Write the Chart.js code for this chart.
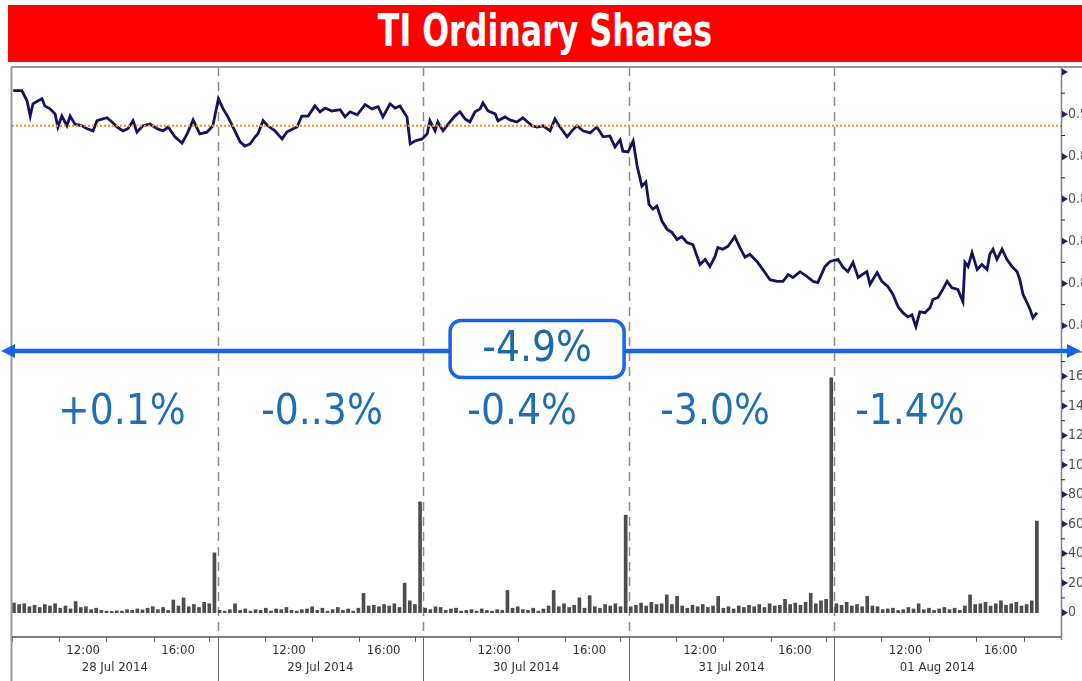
<!DOCTYPE html>
<html>
<head>
<meta charset="utf-8">
<title>TI Ordinary Shares</title>
<script src="https://cdn.jsdelivr.net/npm/chart.js@4.4.1/dist/chart.umd.min.js"></script>
<style>
  body { margin: 0; background: #fff; width: 1082px; height: 681px; overflow: hidden; position: relative; }
  #titre {
    position: absolute; left: 8px; top: 5px; width: 1074px; height: 57px;
    background: #ff0000; color: #fff; text-align: center; line-height: 62px;
    font: bold 44px 'Liberation Sans Narrow', 'DejaVu Sans Condensed', sans-serif;
    z-index: 2;
  }
  #titre span { display: inline-block; transform: scaleX(0.8); }
  #grafico { position: absolute; left: 0; top: 0; }
</style>
</head>
<body>
<div id="titre"><span>TI Ordinary Shares</span></div>
<canvas id="grafico" width="1082" height="681"></canvas>
<script>
// jours de bourse (axe x = minutes de seance depuis 9:00, 520 min par jour)
var dayLabels = ['28 Jul 2014', '29 Jul 2014', '30 Jul 2014', '31 Jul 2014', '01 Aug 2014'];
var hourTicks = [60, 180, 300, 420];        // 10:00, 12:00, 14:00, 16:00
var hourLabels = ['', '12:00', '', '16:00'];
var sessionLength = 520;

// variation par jour + total
var dayPct = ['+0.1%', '-0..3%', '-0.4%', '-3.0%', '-1.4%'];
var dayPctTime = [278, 784, 1290, 1778, 2271];
var totalPct = '-4.9%';
var totalPctTime = 1328;

var prevClose = 0.8973;

// cours
var priceTime = [
  3, 25, 38, 46, 53, 66, 76, 83, 96, 109, 116, 126, 139, 147, 159, 177, 190, 205, 215, 240,
  253, 266, 281, 293, 306, 316, 331, 349, 367, 382, 395, 412, 430, 443, 458, 475, 493, 508,
  522, 534, 546, 559, 577, 589, 602, 615, 622, 635, 647, 665, 683, 695, 711, 721, 733, 749,
  766, 779, 792, 809, 830, 842, 855, 873, 893, 910, 926, 938, 956, 969, 981, 999, 1007, 1019, 1037,
  1050, 1057, 1070, 1077, 1090, 1103, 1120, 1133, 1146, 1158, 1171, 1184, 1191, 1204, 1222, 1229,
  1247, 1259, 1277, 1292, 1315, 1328, 1343, 1361, 1373, 1386, 1404, 1416, 1429, 1444, 1462, 1479,
  1495, 1512, 1525, 1538, 1545, 1558,
  1571, 1581, 1593, 1603, 1611, 1621, 1631, 1644, 1657, 1669, 1682, 1694, 1707, 1722, 1740, 1753,
  1765, 1778, 1785, 1798, 1811, 1828, 1841, 1854, 1866, 1884, 1899, 1917, 1935, 1950, 1963, 1975,
  1993, 2011, 2026, 2038, 2056, 2069,
  2089, 2102, 2114, 2127, 2140, 2150, 2162, 2170, 2188, 2200, 2215, 2228, 2241, 2253, 2266, 2276,
  2286, 2296, 2309, 2322, 2329, 2342, 2354, 2365, 2377, 2392, 2405, 2410, 2418, 2428, 2441, 2453,
  2466, 2473, 2481, 2491, 2504, 2516, 2529, 2542, 2549, 2557, 2567, 2575, 2582, 2592
];
var priceValue = [
  0.9056, 0.9056, 0.9032, 0.8996, 0.9025, 0.9032, 0.9037, 0.9020, 0.9013, 0.9001, 0.8970, 0.8996,
  0.8973, 0.8996, 0.8977, 0.8973, 0.8966, 0.8961, 0.8985, 0.8992, 0.8982, 0.8970, 0.8961, 0.8966,
  0.8985, 0.8958, 0.8973, 0.8977, 0.8966, 0.8961, 0.8970, 0.8947, 0.8932, 0.8954, 0.8987, 0.8954,
  0.8958, 0.8973,
  0.9037, 0.9013, 0.8994, 0.8970, 0.8935, 0.8925, 0.8930, 0.8947, 0.8954, 0.8985, 0.8973, 0.8961,
  0.8942, 0.8958, 0.8966, 0.8970, 0.8996, 0.8996, 0.9020, 0.9006, 0.9015, 0.9008, 0.9011, 0.8994,
  0.9006, 0.8999, 0.9023, 0.9013, 0.9018, 0.8994, 0.9025, 0.9015, 0.9020, 0.8994, 0.8930, 0.8937, 0.8942,
  0.8954, 0.8985, 0.8961, 0.8982, 0.8961, 0.8977, 0.8996, 0.9006, 0.8989, 0.8982, 0.9006, 0.9013,
  0.9027, 0.9008, 0.9001, 0.8985, 0.8994, 0.8987, 0.8982, 0.8992, 0.8973, 0.8970, 0.8973, 0.8961,
  0.8989, 0.8970, 0.8947, 0.8961, 0.8973, 0.8961, 0.8956, 0.8970, 0.8947, 0.8949, 0.8923, 0.8940,
  0.8913, 0.8911,
  0.8937, 0.8878, 0.8830, 0.8840, 0.8787, 0.8776, 0.8783, 0.8747, 0.8728, 0.8721, 0.8704, 0.8711,
  0.8697, 0.8692, 0.8645, 0.8657, 0.8640, 0.8664, 0.8685, 0.8681, 0.8688, 0.8711, 0.8685, 0.8662,
  0.8669, 0.8652, 0.8633, 0.8609, 0.8605, 0.8605, 0.8621, 0.8614, 0.8628, 0.8616, 0.8605, 0.8602,
  0.8640, 0.8652,
  0.8657, 0.8638, 0.8628, 0.8650, 0.8614, 0.8621, 0.8628, 0.8598, 0.8626, 0.8605, 0.8593, 0.8574,
  0.8545, 0.8531, 0.8521, 0.8526, 0.8498, 0.8533, 0.8531, 0.8543, 0.8562, 0.8567, 0.8586, 0.8605,
  0.8590, 0.8586, 0.8557, 0.8650, 0.8640, 0.8673, 0.8633, 0.8645, 0.8633, 0.8669, 0.8681, 0.8657,
  0.8681, 0.8657, 0.8640, 0.8628, 0.8609, 0.8574, 0.8555, 0.8538, 0.8519, 0.8531
];

// volumes, 40 tranches de 13 min par jour (la derniere = cloture)
var volSlot = 13;
var vol28Jul = [65, 55, 60, 40, 50, 35, 55, 45, 60, 30, 45, 25, 75, 35, 40, 20, 30, 15, 10, 8,
  12, 10, 20, 15, 25, 18, 30, 40, 20, 35, 15, 85, 45, 100, 40, 55, 35, 70, 60, 405];
var vol29Jul = [15, 10, 20, 60, 15, 25, 10, 20, 15, 30, 10, 25, 20, 35, 15, 10, 20, 25, 40, 15,
  30, 10, 20, 35, 15, 25, 10, 30, 130, 45, 50, 40, 55, 45, 60, 35, 200, 80, 55, 750];
var vol30Jul = [30, 20, 40, 35, 15, 25, 30, 10, 15, 20, 10, 25, 15, 10, 20, 15, 150, 30, 40, 20,
  15, 30, 10, 25, 45, 150, 40, 60, 35, 50, 100, 30, 115, 40, 30, 55, 45, 60, 40, 660];
var vol31Jul = [40, 50, 65, 45, 70, 55, 60, 120, 55, 110, 45, 30, 50, 40, 55, 35, 45, 110, 30, 40,
  25, 45, 35, 50, 40, 55, 35, 60, 45, 50, 90, 55, 65, 50, 70, 130, 60, 80, 90, 1590];
var vol01Aug = [60, 50, 70, 45, 55, 40, 110, 45, 40, 20, 25, 30, 15, 20, 35, 25, 60, 20, 30, 15,
  25, 35, 20, 30, 15, 45, 120, 55, 60, 70, 45, 60, 80, 50, 60, 70, 45, 55, 80, 620];

var priceData = priceTime.map(function (t, i) { return { x: t, y: priceValue[i] }; });

var volData = [];
[vol28Jul, vol29Jul, vol30Jul, vol31Jul, vol01Aug].forEach(function (day, d) {
  day.forEach(function (v, i) {
    volData.push({ x: d * sessionLength + 5 + i * volSlot, y: v });
  });
});

var xMax = 2653;
var police = "'Liberation Sans Narrow', 'DejaVu Sans Condensed', sans-serif";

// separateurs, bordures, reperes d'axes, annotations
var decor = {
  id: 'decor',
  beforeDatasetsDraw: function (chart) {
    var ctx = chart.ctx, a = chart.chartArea, x = chart.scales.x;
    ctx.save();
    ctx.strokeStyle = '#8a8a8a';
    ctx.lineWidth = 1.5;
    ctx.setLineDash([9, 6]);
    for (var d = 1; d < dayLabels.length; d++) {
      var px = Math.round(x.getPixelForValue(d * sessionLength)) + 0.5;
      ctx.beginPath(); ctx.moveTo(px, a.top); ctx.lineTo(px, a.bottom); ctx.stroke();
    }
    ctx.restore();
  },
  afterDraw: function (chart) {
    var ctx = chart.ctx, a = chart.chartArea, x = chart.scales.x;
    var yP = chart.scales.yPrice, yV = chart.scales.yVol;
    var W = chart.width, H = chart.height;
    ctx.save();

    // cadre
    ctx.strokeStyle = '#9a9a9a';
    ctx.lineWidth = 2;
    ctx.beginPath(); ctx.moveTo(a.left - 1, a.top); ctx.lineTo(W, a.top); ctx.stroke();
    ctx.beginPath(); ctx.moveTo(a.left - 0.5, a.top); ctx.lineTo(a.left - 0.5, H); ctx.stroke();
    ctx.beginPath(); ctx.moveTo(a.left, yP.bottom); ctx.lineTo(W, yP.bottom); ctx.stroke();
    ctx.strokeStyle = '#555';
    ctx.lineWidth = 1.5;
    ctx.beginPath(); ctx.moveTo(a.left, a.bottom); ctx.lineTo(a.right, a.bottom); ctx.stroke();
    ctx.strokeStyle = '#7b7ba6';
    ctx.beginPath(); ctx.moveTo(a.right + 0.5, a.top); ctx.lineTo(a.right + 0.5, a.bottom + 3); ctx.stroke();

    // separateurs pleins sous l'axe
    ctx.strokeStyle = '#666';
    ctx.lineWidth = 1;
    for (var d = 1; d < dayLabels.length; d++) {
      var px = Math.round(x.getPixelForValue(d * sessionLength)) + 0.5;
      ctx.beginPath(); ctx.moveTo(px, a.bottom); ctx.lineTo(px, H); ctx.stroke();
    }

    // reperes des axes de droite : triangles + petits traits
    ctx.fillStyle = '#22225a';
    ctx.strokeStyle = '#22225a';
    [yP, yV].forEach(function (s) {
      var step = s.ticks.length > 1 ? s.ticks[1].value - s.ticks[0].value : 0;
      s.ticks.forEach(function (t) {
        var py = s.getPixelForValue(t.value);
        ctx.beginPath();
        ctx.moveTo(a.right + 1, py - 3.5);
        ctx.lineTo(a.right + 7, py);
        ctx.lineTo(a.right + 1, py + 3.5);
        ctx.closePath(); ctx.fill();
        var my = s.getPixelForValue(t.value + step / 2);
        if (my > s.top && my < s.bottom) {
          ctx.beginPath(); ctx.moveTo(a.right, my); ctx.lineTo(a.right + 4, my); ctx.stroke();
        }
      });
    });

    // variations par jour
    ctx.fillStyle = '#1f6fb2';
    ctx.font = '42px ' + police;
    ctx.textAlign = 'center';
    ctx.textBaseline = 'middle';
    dayPct.forEach(function (txt, i) {
      ctx.fillText(txt, x.getPixelForValue(dayPctTime[i]), yV.getPixelForValue(1350));
    });

    // fleche bleue
    var ay = yP.bottom - 1;
    ctx.strokeStyle = '#1565e6';
    ctx.fillStyle = '#1565e6';
    ctx.lineWidth = 4.5;
    ctx.beginPath(); ctx.moveTo(12, ay); ctx.lineTo(W - 12, ay); ctx.stroke();
    ctx.beginPath(); ctx.moveTo(1, ay); ctx.lineTo(15, ay - 7); ctx.lineTo(15, ay + 7); ctx.closePath(); ctx.fill();
    ctx.beginPath(); ctx.moveTo(W - 1, ay); ctx.lineTo(W - 15, ay - 7); ctx.lineTo(W - 15, ay + 7); ctx.closePath(); ctx.fill();

    // encadre du total
    var cx = x.getPixelForValue(totalPctTime), bw = 174, bh = 57;
    ctx.beginPath();
    ctx.roundRect(cx - bw / 2, ay - bh / 2 - 2, bw, bh, 11);
    ctx.fillStyle = '#fff';
    ctx.fill();
    ctx.lineWidth = 3.5;
    ctx.stroke();
    ctx.fillStyle = '#1b68ab';
    ctx.fillText(totalPct, cx, ay - 1);
    ctx.restore();
  }
};

var ctx = document.getElementById('grafico').getContext('2d');
var chart = new Chart(ctx, {
  type: 'line',
  data: {
    datasets: [{
      label: 'Previous close',
      data: [{ x: 0, y: prevClose }, { x: xMax, y: prevClose }],
      yAxisID: 'yPrice',
      borderColor: '#ff8c1a',
      borderWidth: 2,
      borderDash: [2, 2],
      pointRadius: 0,
      order: 0
    }, {
      label: 'TI',
      data: priceData,
      yAxisID: 'yPrice',
      borderColor: '#16125c',
      borderWidth: 2.8,
      pointRadius: 0,
      tension: 0,
      order: 1
    }, {
      type: 'bar',
      label: 'Volume',
      data: volData,
      yAxisID: 'yVol',
      backgroundColor: '#4d4d4d',
      barThickness: 3,
      order: 2
    }]
  },
  options: {
    responsive: false,
    animation: false,
    devicePixelRatio: 1,
    layout: { padding: { left: 12, top: 67, right: 0, bottom: 0 } },
    plugins: { legend: { display: false }, tooltip: { enabled: false } },
    scales: {
      x: {
        type: 'linear', position: 'bottom', min: 0, max: xMax, offset: false,
        afterBuildTicks: function (s) {
          var t = [];
          dayLabels.forEach(function (lab, d) {
            hourTicks.forEach(function (h) { t.push({ value: d * sessionLength + h }); });
          });
          s.ticks = t;
        },
        afterFit: function (s) { s.height = 22; },
        ticks: {
          autoSkip: false, maxRotation: 0, padding: 1, color: '#333',
          font: { family: police, size: 13 },
          callback: function (v) { return hourLabels[hourTicks.indexOf(v % sessionLength)]; }
        },
        grid: { display: true, drawOnChartArea: false, drawTicks: true, tickLength: 5, color: '#666' },
        border: { display: false }
      },
      xDays: {
        type: 'linear', position: 'bottom', min: 0, max: xMax, offset: false,
        afterBuildTicks: function (s) {
          s.ticks = dayLabels.map(function (lab, d) { return { value: d * sessionLength + sessionLength / 2 }; });
        },
        afterFit: function (s) { s.height = 22; },
        ticks: {
          autoSkip: false, maxRotation: 0, padding: 1, color: '#333',
          font: { family: police, size: 13 },
          callback: function (v) { return dayLabels[Math.floor(v / sessionLength)]; }
        },
        grid: { display: false, drawTicks: false },
        border: { display: false }
      },
      yPrice: {
        type: 'linear', position: 'right', stack: 'panneaux', stackWeight: 1,
        min: 0.8438, max: 0.9112,
        afterFit: function (s) { s.width = 21; },
        ticks: {
          stepSize: 0.01, includeBounds: false, autoSkip: false, padding: 7, color: '#555',
          font: { family: police, size: 14 },
          callback: function (v) { return v > 0.905 ? '' : v.toFixed(2); }
        },
        grid: { display: false, drawTicks: false },
        border: { display: false }
      },
      yVol: {
        type: 'linear', position: 'right', stack: 'panneaux', stackWeight: 1,
        min: -165, max: 1765,
        afterFit: function (s) { s.width = 21; },
        ticks: {
          stepSize: 200, includeBounds: false, autoSkip: false, padding: 7, color: '#555',
          font: { family: police, size: 14 },
          callback: function (v) { return String(v); }
        },
        grid: { display: false, drawTicks: false },
        border: { display: false }
      }
    }
  },
  plugins: [decor]
});
</script>
</body>
</html>
